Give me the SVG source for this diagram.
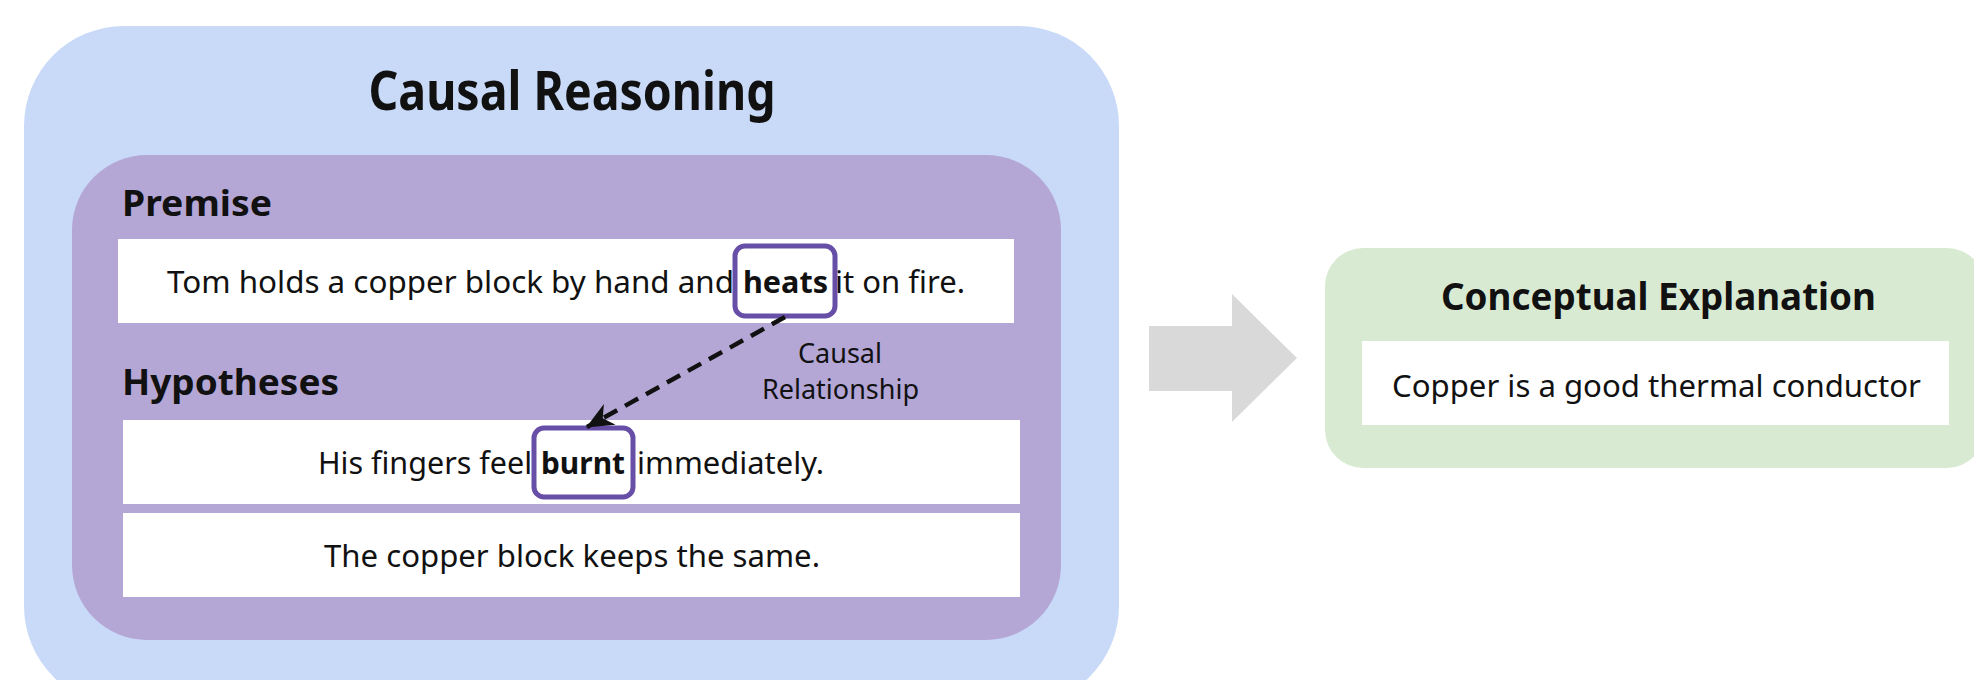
<svg xmlns="http://www.w3.org/2000/svg" width="1974" height="680" viewBox="0 0 1974 680">
<defs>
<style>
.t{font-family:"Noto Sans","Open Sans","DejaVu Sans",sans-serif;fill:#111;}
.b{font-weight:700;}
.hl{fill:none;stroke:#674ea7;stroke-width:5;}
.wbox{fill:#ffffff;}
</style>
<marker id="ah" markerUnits="userSpaceOnUse" markerWidth="34" markerHeight="28" refX="0" refY="0" viewBox="-28 -14 30 28" orient="auto">
<path d="M1,0 L-26,-12 L-18,0 L-26,12 Z" fill="#111"/>
</marker>
</defs>
<rect width="1974" height="680" fill="#ffffff"/>

<g id="causal-reasoning">
<rect x="24" y="26" width="1095" height="680" rx="100" ry="100" fill="#c9daf8"/>
<text class="t b" x="572" y="110" font-size="53" text-anchor="middle" textLength="407" lengthAdjust="spacingAndGlyphs">Causal Reasoning</text>
</g>

<g id="inner-panel">
<rect x="72" y="155" width="989" height="485" rx="75" ry="75" fill="#b4a7d6"/>
</g>

<g id="premise">
<text class="t b" x="122" y="216" font-size="35" textLength="150" lengthAdjust="spacingAndGlyphs">Premise</text>
<rect class="wbox" x="118" y="239" width="896" height="84"/>
<text class="t" y="293" font-size="30"><tspan x="167" textLength="567" lengthAdjust="spacingAndGlyphs">Tom holds a copper block by hand and</tspan> <tspan class="b" x="743" textLength="85" lengthAdjust="spacingAndGlyphs">heats</tspan> <tspan x="835" textLength="130" lengthAdjust="spacingAndGlyphs">it on fire.</tspan></text>
<rect class="hl" x="735" y="246" width="100" height="70" rx="10" ry="10"/>
</g>

<g id="hypotheses">
<text class="t b" x="122" y="395" font-size="35" textLength="217" lengthAdjust="spacingAndGlyphs">Hypotheses</text>
</g>

<g id="hypothesis-1">
<rect class="wbox" x="123" y="420" width="897" height="84"/>
<text class="t" y="474" font-size="30"><tspan x="318" textLength="214" lengthAdjust="spacingAndGlyphs">His fingers feel</tspan> <tspan class="b" x="541" textLength="84" lengthAdjust="spacingAndGlyphs">burnt</tspan> <tspan x="637" textLength="187" lengthAdjust="spacingAndGlyphs">immediately.</tspan></text>
<rect class="hl" x="534" y="428" width="99" height="69" rx="10" ry="10"/>
</g>

<g id="hypothesis-2">
<rect class="wbox" x="123" y="513" width="897" height="84"/>
<text class="t" x="572" y="567" font-size="30" text-anchor="middle" textLength="496" lengthAdjust="spacingAndGlyphs">The copper block keeps the same.</text>
</g>

<g id="connectors">
<line x1="785" y1="317" x2="587" y2="427" stroke="#111" stroke-width="4.5" stroke-dasharray="15 9" marker-end="url(#ah)"/>
<text class="t" font-size="27" text-anchor="middle" fill="#222"><tspan x="840" y="363" textLength="84" lengthAdjust="spacingAndGlyphs">Causal</tspan><tspan x="840.5" y="399" textLength="157" lengthAdjust="spacingAndGlyphs">Relationship</tspan></text>
<polygon points="1149,326 1232,326 1232,294 1297,358 1232,422 1232,391 1149,391" fill="#d9d9d9"/>
</g>

<g id="conceptual-explanation">
<rect x="1325" y="248" width="660" height="220" rx="38" ry="38" fill="#d9ead3"/>
<text class="t b" x="1658.5" y="310" font-size="37" text-anchor="middle" textLength="435" lengthAdjust="spacingAndGlyphs">Conceptual Explanation</text>
<rect class="wbox" x="1362" y="341" width="587" height="84"/>
<text class="t" x="1656.5" y="397" font-size="30" text-anchor="middle" textLength="529" lengthAdjust="spacingAndGlyphs">Copper is a good thermal conductor</text>
</g>
</svg>
